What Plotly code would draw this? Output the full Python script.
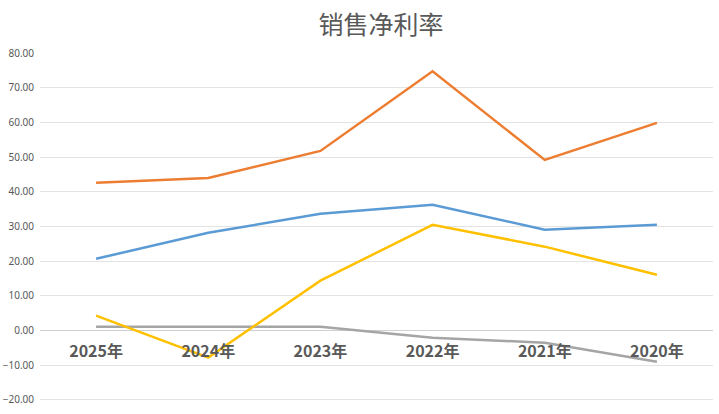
import plotly.graph_objects as go

categories = ["2025年", "2024年", "2023年", "2022年", "2021年", "2020年"]
series_orange = [42.6, 44.0, 51.8, 74.8, 49.2, 59.9]
series_blue = [20.7, 28.2, 33.7, 36.3, 29.1, 30.5]
series_yellow = [4.3, -7.8, 14.4, 30.5, 24.2, 16.1]
series_gray = [1.1, 1.1, 1.1, -2.1, -3.5, -9.0]

fig = go.Figure()
for vals, color in [(series_blue, "#5B9BD5"), (series_orange, "#ED7D31"),
                    (series_gray, "#A5A5A5"), (series_yellow, "#FFC000")]:
    fig.add_trace(go.Scatter(x=categories, y=vals, mode="lines",
                             line=dict(color=color, width=2.5), showlegend=False))

fig.update_layout(
    width=719, height=414,
    margin=dict(l=40, r=6, t=53, b=12, autoexpand=False),
    paper_bgcolor="white", plot_bgcolor="white",
    title=dict(text="销售净利率", x=0.53, xanchor="center", y=0.94, yanchor="middle",
               font=dict(family="Noto Sans CJK SC", size=25, color="#595959")),
    xaxis=dict(type="category", range=[-0.5, 5.5], anchor="free", position=0.206,
               automargin=False,
               showgrid=False, showline=False, zeroline=False, ticks="",
               ticklabelstandoff=10,
               tickfont=dict(family="Noto Sans CJK SC", size=16, color="#595959", weight="bold")),
    yaxis=dict(range=[-20.6, 80.05], dtick=10, tickformat=".2f", showgrid=True, automargin=False,
               gridcolor="#E3E3E3", gridwidth=1, zeroline=True, zerolinecolor="#D0D0D0",
               zerolinewidth=1, showline=False, ticks="", ticklabelstandoff=5,
               tickfont=dict(family="Noto Sans", size=10, color="#595959")),
)

fig.write_html("out.html", post_script="document.body.style.margin='0';",
               config={"displayModeBar": False})
